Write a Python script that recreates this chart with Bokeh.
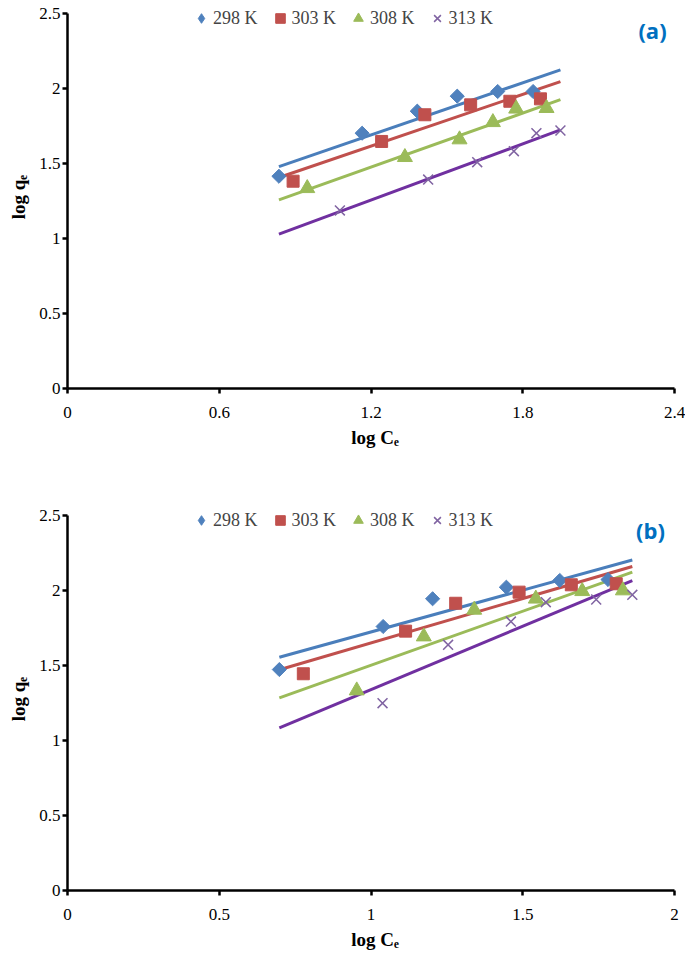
import numpy as np
from bokeh.plotting import figure
from bokeh.layouts import column
from bokeh.models import Label, Legend, LegendItem, FixedTicker, Range1d
from bokeh.embed import file_html
from bokeh.resources import INLINE

series_labels = ["298 K", "303 K", "308 K", "313 K"]
marker_colors = ["#4F81BD", "#C0504D", "#9BBB59", "#8064A2"]
line_colors = ["#4A7EBB", "#C0504D", "#9BBB59", "#7030A0"]

# ---- panel (a) data: log Ce vs log qe ----
a_x_298 = [0.836, 1.165, 1.383, 1.541, 1.701, 1.841]
a_y_298 = [1.415, 1.702, 1.849, 1.949, 1.980, 1.980]
a_x_303 = [0.892, 1.242, 1.413, 1.594, 1.749, 1.870]
a_y_303 = [1.382, 1.647, 1.825, 1.891, 1.915, 1.931]
a_x_308 = [0.948, 1.334, 1.550, 1.682, 1.774, 1.894]
a_y_308 = [1.335, 1.542, 1.660, 1.775, 1.865, 1.869]
a_x_313 = [1.077, 1.426, 1.620, 1.765, 1.854, 1.949]
a_y_313 = [1.187, 1.393, 1.509, 1.582, 1.702, 1.720]

# ---- panel (b) data ----
b_x_298 = [0.698, 1.040, 1.203, 1.446, 1.622, 1.781]
b_y_298 = [1.473, 1.760, 1.945, 2.022, 2.067, 2.073]
b_x_303 = [0.777, 1.114, 1.279, 1.488, 1.660, 1.808]
b_y_303 = [1.445, 1.729, 1.915, 1.989, 2.038, 2.045]
b_x_308 = [0.953, 1.174, 1.340, 1.543, 1.696, 1.830]
b_y_308 = [1.333, 1.693, 1.871, 1.945, 1.995, 2.000]
b_x_313 = [1.038, 1.254, 1.461, 1.576, 1.742, 1.861]
b_y_313 = [1.249, 1.638, 1.793, 1.922, 1.940, 1.971]

a_x_ticks = [0, 0.6, 1.2, 1.8, 2.4]
a_x_tick_labels = ["0", "0.6", "1.2", "1.8", "2.4"]
b_x_ticks = [0, 0.5, 1, 1.5, 2]
b_x_tick_labels = ["0", "0.5", "1", "1.5", "2"]
y_ticks = [0, 0.5, 1, 1.5, 2, 2.5]
y_tick_labels = ["0", "0.5", "1", "1.5", "2", "2.5"]

SERIF = "Liberation Serif"

# layout (pixels)
FRAME_W, AXIS_W = 615, 607     # frame width, drawn x-axis length
FRAME_H, AXIS_H = 383, 375     # frame height, drawn y-axis length


def make_panel(xs, ys, x_max, x_ticks, x_tick_labels, tag, tag_xy, height, top, bottom):
    y_max = y_ticks[-1]
    p = figure(width=685, height=height,
               x_range=Range1d(0, x_max * FRAME_W / AXIS_W),
               y_range=Range1d(0, y_max * FRAME_H / AXIS_H),
               output_backend="svg", toolbar_location=None,
               min_border_left=67, min_border_right=3, min_border_top=top, min_border_bottom=bottom)
    p.outline_line_color = None
    p.xgrid.visible = False
    p.ygrid.visible = False
    p.background_fill_color = "white"

    for ax in (p.xaxis[0], p.yaxis[0]):
        ax.axis_line_width = 2.5
        ax.axis_line_color = "black"
        ax.major_tick_line_width = 2.5
        ax.major_tick_line_color = "black"
        ax.major_tick_out = 5
        ax.major_tick_in = 0
        ax.minor_tick_line_color = None
        ax.major_label_text_font = SERIF
        ax.major_label_text_font_size = "17px"
        ax.major_label_text_color = "black"
        ax.axis_label_text_font = SERIF
        ax.axis_label_text_font_size = "19px"
        ax.axis_label_text_font_style = "bold"
        ax.axis_label_text_color = "black"

    p.xaxis.bounds = (0, x_max)
    p.yaxis.bounds = (0, y_max)
    p.xaxis.ticker = FixedTicker(ticks=x_ticks)
    p.xaxis.major_label_overrides = {t: s for t, s in zip(x_ticks, x_tick_labels)}
    p.yaxis.ticker = FixedTicker(ticks=y_ticks)
    p.yaxis.major_label_overrides = {t: s for t, s in zip(y_ticks, y_tick_labels)}
    p.xaxis.major_label_standoff = 13
    p.yaxis.major_label_standoff = 2
    p.xaxis.axis_label_standoff = 6
    p.yaxis.axis_label_standoff = 7
    p.xaxis.axis_label = "log C\u2091"
    p.yaxis.axis_label = "log q\u2091"

    all_x = np.concatenate([np.asarray(v, float) for v in xs])
    lx = np.array([all_x.min(), all_x.max()])

    # linear trendlines (least squares) for each temperature
    for x, y, lc in zip(xs, ys, line_colors):
        k, b = np.polyfit(x, y, 1)
        p.line(lx, k * lx + b, line_color=lc, line_width=3)

    items = []
    # diamonds: rotated squares in the plot, a diamond glyph (never drawn in the plot) as legend key
    p.scatter(xs[0], ys[0], marker="square", angle=np.pi / 4, size=10,
              fill_color=marker_colors[0], line_color=marker_colors[0])
    r = p.scatter(x=[np.nan], y=[np.nan], marker="diamond", size=12,
                  fill_color=marker_colors[0], line_color=marker_colors[0])
    items.append(LegendItem(label=series_labels[0], renderers=[r]))
    r = p.scatter(xs[1], ys[1], marker="square", size=12,
                  fill_color=marker_colors[1], line_color=marker_colors[1])
    items.append(LegendItem(label=series_labels[1], renderers=[r]))
    r = p.scatter(xs[2], ys[2], marker="triangle", size=15,
                  fill_color=marker_colors[2], line_color=marker_colors[2])
    items.append(LegendItem(label=series_labels[2], renderers=[r]))
    r = p.scatter(xs[3], ys[3], marker="x", size=14, line_width=1.5,
                  line_color=marker_colors[3])
    items.append(LegendItem(label=series_labels[3], renderers=[r]))

    leg = Legend(items=items, orientation="horizontal", location=(122, 358),
                 glyph_width=24, glyph_height=24, label_standoff=-4, spacing=10,
                 padding=0, margin=0, border_line_color=None, background_fill_alpha=0,
                 label_text_font=SERIF, label_text_font_size="18px", label_height=22)
    p.add_layout(leg)

    p.add_layout(Label(x=tag_xy[0], y=tag_xy[1], x_units="screen", y_units="screen", text=tag,
                       text_align="center", text_baseline="middle", text_font="Open Sans",
                       text_font_style="bold", text_font_size="22px", text_color="#0070C0"))
    return p


pa = make_panel([a_x_298, a_x_303, a_x_308, a_x_313], [a_y_298, a_y_303, a_y_308, a_y_313],
                a_x_ticks[-1], a_x_ticks, a_x_tick_labels, "(a)", (585, 359), 498, 5, 110)
pb = make_panel([b_x_298, b_x_303, b_x_308, b_x_313], [b_y_298, b_y_303, b_y_308, b_y_313],
                b_x_ticks[-1], b_x_ticks, b_x_tick_labels, "(b)", (583, 361), 458, 9, 66)

layout = column(pa, pb, spacing=0)
open("out.html", "w").write(file_html(layout, INLINE))
